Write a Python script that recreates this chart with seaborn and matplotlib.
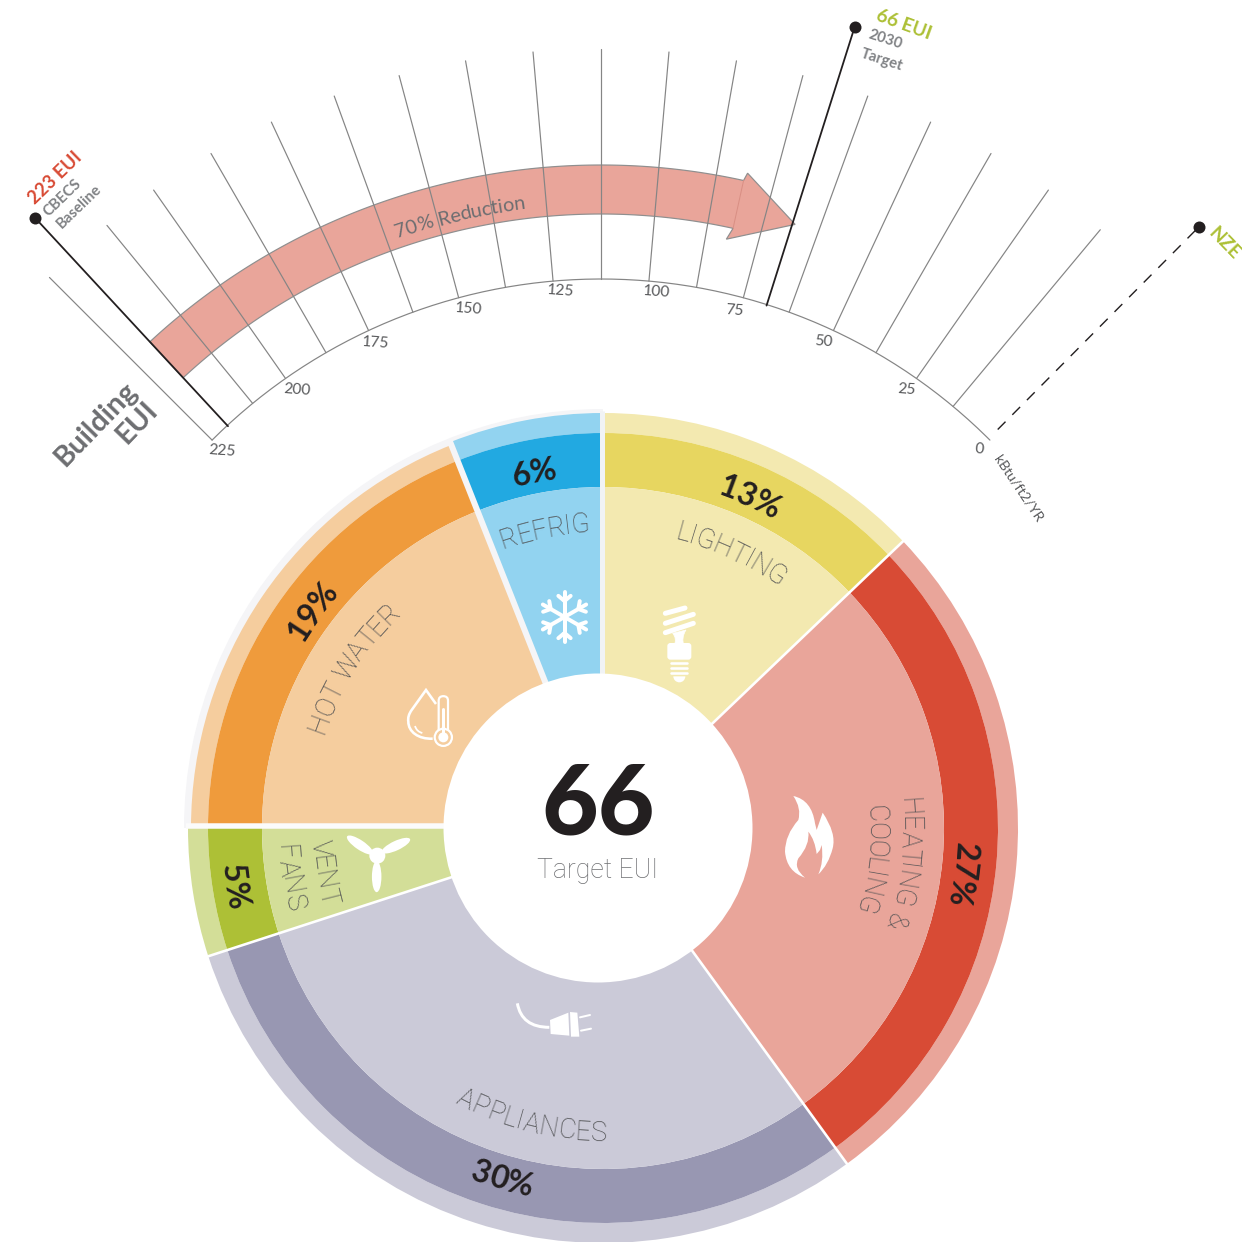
import numpy as np
import pandas as pd
import seaborn as sns
import matplotlib
matplotlib.use("Agg")
import matplotlib.pyplot as plt
from matplotlib.patches import Wedge, Circle, PathPatch, Ellipse, FancyBboxPatch, Polygon
from matplotlib.path import Path
from matplotlib.font_manager import FontProperties

# ---------- data ----------
end_uses = ["LIGHTING", "HEATING & COOLING", "APPLIANCES", "VENT FANS", "HOT WATER", "REFRIG"]
shares = [13, 27, 30, 5, 19, 6]
share_labels = ["13%", "27%", "30%", "5%", "19%", "6%"]
light_colors = ["#f3e9b0", "#e9a59a", "#cbcad8", "#d3de98", "#f5cd9e", "#92d3f0"]
dark_colors = ["#e7d660", "#d84b35", "#9897b2", "#adc036", "#ef9b3c", "#22a9e1"]
scale_values = [12.5, 25, 37.5, 50, 62.5, 75, 87.5, 100, 112.5, 125, 137.5, 150, 162.5, 175, 187.5, 200, 212.5, 225]
scale_labels = [0, 25, 50, 75, 100, 125, 150, 175, 200, 225]
baseline_eui = 223
target_eui = 66
nze_eui = 0

# ---------- setup ----------
sns.set_theme(style="white")
FONT = ["Lato", "DejaVu Sans"]
THIN = ["Roboto", "DejaVu Sans"]
plt.rcParams["font.family"] = FONT
fig = plt.figure(figsize=(12.42, 12.42), dpi=100)
ax = fig.add_axes([0, 0, 1, 1])
renderer = fig.canvas.get_renderer()
PX = 0.72  # points per pixel

INK = "#231f20"
LABEL = "#58595b"
GREY = "#808285"
RED = "#d84b35"
GREEN = "#adc036"
PALE = "#f5f5f7"

DC = (603, 828)   # donut centre
GC = (601, 829)   # gauge centre


def polar(centre, r, a):
    a = np.radians(a)
    return centre[0] + r * np.sin(a), centre[1] - r * np.cos(a)


def eui_angle(v):
    return (112.5 - v) * 0.4


def arc_text(s, a_mid, r, size_px, weight="normal", color=LABEL, cw=True, centre=DC, track=0.0, family=FONT):
    fp = FontProperties(family=family, size=size_px * PX, weight=weight)
    w = lambda t: renderer.get_text_width_height_descent(t, fp, False)[0] if t else 0.0
    n = len(s)
    total = w(s) + track * (n - 1)
    base = r - 0.36 * size_px if cw else r + 0.36 * size_px
    for i, ch in enumerate(s):
        if ch == " ":
            continue
        d = (w(s[:i]) + w(s[:i + 1])) / 2 + track * i - total / 2
        da = np.degrees(d / r)
        a = a_mid + da if cw else a_mid - da
        rot = -a if cw else 180 - a
        x, y = polar(centre, base, a)
        ax.text(x, y, ch, fontproperties=fp, color=color, rotation=rot, rotation_mode="anchor",
                ha="center", va="baseline", zorder=8)


# ---------- gauge ----------
# arrow
arrow_angles = np.linspace(-42.8, 12.4, 120)
outer = [polar(GC, 664, a) for a in arrow_angles]
inner = [polar(GC, 615, a) for a in arrow_angles[::-1]]
head = [polar(GC, 672, 12.6), polar(GC, 635, 17.8), polar(GC, 603, 12.0)]
ax.add_patch(Polygon(outer + head + inner, closed=True, fc="#e9a59a", ec="#8f8f8f", lw=1.2 * PX, zorder=2))
ax.plot(*zip(polar(GC, 664, 12.4), polar(GC, 615, 12.4)), color="#d98f84", lw=1 * PX, zorder=3)


# rays (the 212.5 ray sits slightly inward in the source)
def ray_angle(v):
    return eui_angle(v) + (0.7 if v == 212.5 else 0.0) - (0.2 if v == 12.5 else 0.0)


ray_df = pd.DataFrame(
    [dict(ray=v, order=i, x=polar(GC, r, ray_angle(v))[0], y=polar(GC, r, ray_angle(v))[1])
     for v in scale_values for i, r in enumerate((550, 780))]
)
sns.lineplot(data=ray_df, x="x", y="y", units="ray", estimator=None, sort=False, color="#858585",
             lw=1.2 * PX, ax=ax, zorder=4, legend=False)

# base arc
arc_a = np.linspace(eui_angle(225), eui_angle(0), 200)
ax.plot(*zip(*[polar(GC, 550, a) for a in arc_a]), color="#858585", lw=1.2 * PX, zorder=4)

label_dx = [-11, -10, -10, -9, 8, 8, 10, 7, 11, 10]
label_dy = [9, 11, 11, 13, 11, 10, 11, 12, 11, 11]
for v, dx, dy in zip(scale_labels, label_dx, label_dy):
    x, y = polar(GC, 550, eui_angle(v))
    ax.text(x + dx, y + dy, str(v), ha="center", va="center", fontsize=15.5 * PX, color=LABEL,
            rotation=-4, zorder=8)

# marker lines and dots (the designer placed these slightly off the scale)
base_a = eui_angle(baseline_eui) + 1.4
targ_a = eui_angle(target_eui) - 1.05
nze_a = eui_angle(nze_eui) - 0.2
ax.plot(*zip(polar(GC, 549, base_a), polar(GC, 833, base_a)), color=INK, lw=1.8 * PX, zorder=5)
ax.plot(*zip(polar(GC, 549, targ_a), polar(GC, 841, targ_a)), color=INK, lw=1.8 * PX, zorder=5)
ax.plot(*zip(polar(GC, 563, nze_a), polar(GC, 849, nze_a)), color=INK, lw=1.4 * PX, dashes=(7.9, 6.9), zorder=5)
dots = pd.DataFrame([polar(GC, 833, base_a), polar(GC, 841, targ_a), polar(GC, 849, nze_a)], columns=["x", "y"])
sns.scatterplot(data=dots, x="x", y="y", s=(12 * PX) ** 2, color=INK, linewidth=0, ax=ax, zorder=6, legend=False)

# gauge text
arc_text("70% Reduction", -13, 632, 20, weight="normal", color="#6d6e71", centre=GC)
ax.text(96, 424, "Building", rotation=46, ha="center", va="center", fontsize=29 * PX, fontweight="bold", color="#6d6e71")
ax.text(137, 423, "EUI", rotation=46, ha="center", va="center", fontsize=29 * PX, fontweight="bold", color="#6d6e71")
ax.text(55, 178, "223 EUI", rotation=44, ha="center", va="center", fontsize=18.5 * PX, fontweight="bold", color=RED)
ax.text(62, 198, "CBECS", rotation=44, ha="center", va="center", fontsize=15 * PX, fontweight="bold", color=GREY)
ax.text(79, 207, "Baseline", rotation=44, ha="center", va="center", fontsize=15 * PX, fontweight="bold", color=GREY)
ax.text(904, 25, "66 EUI", rotation=-20, ha="center", va="center", fontsize=19 * PX, fontweight="bold", color=GREEN)
ax.text(885, 40, "2030", rotation=-18, ha="center", va="center", fontsize=15 * PX, fontweight="bold", color=GREY)
ax.text(882, 60, "Target", rotation=-18, ha="center", va="center", fontsize=15 * PX, fontweight="bold", color=GREY)
ax.text(1224, 243, "NZE", rotation=-46, ha="center", va="center", fontsize=19 * PX, fontweight="bold", color=GREEN)
ax.text(1018, 489, "kBtu/ft2/YR", rotation=-56, ha="center", va="center", fontsize=14 * PX, color=LABEL)

# ---------- donut ----------
ax.add_patch(Wedge(DC, 419, 180, 270, fc=PALE, ec="none", zorder=1))
edges = np.cumsum([0] + shares) * 3.6
edges[1] -= 0.5   # the source drew this boundary slightly early
for i, name in enumerate(end_uses):
    t1, t2 = edges[i] - 90, edges[i + 1] - 90
    top = 412 if name == "HOT WATER" else 415
    for r, width, col in ((top, top - 395, light_colors[i]), (395, 54, dark_colors[i]), (341, 341, light_colors[i])):
        ax.add_patch(Wedge(DC, r, t1, t2, width=width, fc=col, ec="none", zorder=2))
# thin white separators
for e in edges[1:4]:
    ax.plot(*zip(polar(DC, 0, e), polar(DC, 417, e)), color="white", lw=2.6 * PX, solid_capstyle="butt", zorder=3)
# pale separators around the hot-water / refrigeration quarter
ax.plot([186, 603], [826.3, 826.3], color="#fbfbfb", lw=5.5 * PX, solid_capstyle="butt", zorder=3)
ax.plot(*zip(polar(DC, 0, edges[5]), polar(DC, 418, edges[5])), color=PALE, lw=6 * PX, solid_capstyle="butt", zorder=3)
ax.plot([601.5, 601.5], [828, 411], color="#f1f3f5", lw=5 * PX, solid_capstyle="butt", zorder=3)
ax.add_patch(Circle((598, 828), 154.5, fc="white", ec="none", zorder=4))

# share labels
share_pos = [(23.9, 364, True), (97.4, 364, True), (196, 364, False), (261, 372, False), (306.7, 364, True), (349, 364, True)]
for lab, (a, r, cw) in zip(share_labels, share_pos):
    arc_text(lab, a, r, 32, weight="bold", color=INK, cw=cw)

# names
NAME = dict(weight="light", cw=True, family=THIN, color="#4f5052")
arc_text("LIGHTING", 25, 307, 27, **NAME)
arc_text("HEATING &", 96.7, 308, 27, **NAME)
arc_text("COOLING", 96.7, 275, 27, **NAME)
arc_text("HOT WATER", 302.6, 304, 27, **NAME)
arc_text("REFRIG", 348.9, 306, 27, **NAME)
NAME["cw"] = False
arc_text("APPLIANCES", 193.8, 303, 27, **NAME)
arc_text("VENT", 261, 282, 27, **NAME)
arc_text("FANS", 261, 316, 27, **NAME)

# centre
ax.text(598, 806, str(target_eui), ha="center", va="center", fontsize=98 * PX, fontweight="black", color=INK, zorder=8)
ax.text(598, 870, "Target EUI", ha="center", va="center", fontsize=26.5 * PX, fontweight="light",
        family=THIN, color="#6d6e71", zorder=8)

# ---------- icons ----------
W = dict(color="white", solid_capstyle="round", solid_joinstyle="round", zorder=7)

# snowflake
sc = (564.5, 617)
for k in range(6):
    a = 60 * k
    ax.plot(*zip(sc, polar(sc, 25, a)), lw=4 * PX, **W)
    base = polar(sc, 16, a)
    for s in (-1, 1):
        ax.plot(*zip(base, polar(base, 8, a + s * 50)), lw=4 * PX, **W)

# bulb (from zoom coordinates)
z3 = lambda x, y: (380 + x / 3, 580 + y / 3)
for p, q in (((856, 100), (915, 84)), ((856, 130), (940, 103)), ((856, 158), (940, 130))):
    ax.plot(*zip(z3(*p), z3(*q)), lw=5 * PX, **W)
ax.add_patch(PathPatch(Path([z3(878, 160), z3(892, 175), z3(882, 200), z3(912, 200), z3(903, 172), z3(918, 150), z3(878, 160)],
                            [1, 3, 2, 2, 3, 2, 79]), fc="white", ec="white", lw=0.5, zorder=7))
ax.add_patch(FancyBboxPatch(z3(868, 195), 60 / 3, 38 / 3, boxstyle="round,pad=2,rounding_size=3", fc="white", ec="none", zorder=7))
for yy in (250, 265, 280):
    ax.plot(*zip(z3(874, yy), z3(922, yy)), lw=2.6 * PX, **W)
ax.add_patch(Wedge(z3(898, 289), 6, 0, 180, fc="white", ec="none", zorder=7))

# droplet & thermometer
ax.add_patch(PathPatch(Path([z3(168, 372), z3(138, 330), z3(95, 390), z3(82, 408), z3(85, 425),
                             z3(85, 455), z3(115, 478), z3(158, 476)],
                            [1, 2, 2, 3, 3, 4, 4, 4]), fc="none", ec="white", lw=2.6 * PX, zorder=7))
ax.add_patch(PathPatch(Path([z3(105, 438), z3(110, 455), z3(127, 459)], [1, 3, 3]), fc="none", ec="white", lw=1.8 * PX, zorder=7))
tc = z3(190, 472)
ax.add_patch(Circle(tc, 8.6, fc="none", ec="white", lw=2.2 * PX, zorder=7))
ax.add_patch(Circle(tc, 5, fc="white", ec="none", zorder=7))
lx, rx = z3(176, 0)[0], z3(204, 0)[0]
ty = z3(0, 362)[1]
by = z3(0, 450)[1]
ax.add_patch(PathPatch(Path([(lx, by), (lx, ty), (lx, ty - 4.5), ((lx + rx) / 2, ty - 4.5), (rx, ty - 4.5), (rx, ty), (rx, by)],
                            [1, 2, 3, 3, 3, 3, 2]), fc="none", ec="white", lw=2.2 * PX, zorder=7))
ax.plot(*zip(z3(190, 388), tc), lw=3 * PX, **W)

# flame
z5 = lambda x, y: (500 + x / 3, 780 + y / 3)
fl = [(880, 48), (935, 60), (945, 130), (950, 150), (968, 98), (1010, 160), (998, 205), (985, 255), (955, 283),
      (972, 245), (965, 195), (960, 210), (950, 222), (945, 180), (925, 155), (930, 195), (895, 235), (880, 265), (915, 293),
      (860, 275), (855, 215), (855, 165), (895, 120), (905, 85), (880, 48)]
codes = [1, 3, 3, 2, 2, 3, 3, 3, 3, 3, 3, 2, 2, 3, 3, 3, 3, 3, 3, 3, 3, 3, 3, 3, 3]
ax.add_patch(PathPatch(Path([z5(*p) for p in fl], codes), fc="white", ec="none", zorder=7))

# plug
ax.add_patch(PathPatch(Path([z5(52, 670), z5(65, 742), z5(148, 742)], [1, 3, 3]), fc="none", ec="white", lw=3 * PX, zorder=7))
ax.add_patch(Polygon([z5(150, 720), z5(205, 698), z5(208, 767), z5(152, 762)], fc="white", ec="none", zorder=7))
ax.add_patch(Polygon([z5(210, 696), z5(232, 698), z5(238, 770), z5(213, 770)], fc="white", ec="none", zorder=7))
ax.plot(*zip(z5(240, 712), z5(270, 705)), lw=2 * PX, **W)
ax.plot(*zip(z5(243, 752), z5(273, 746)), lw=2 * PX, **W)

# fan
z4 = lambda x, y: (180 + x / 3, 780 + y / 3)
ax.add_patch(Circle(z4(592, 227), 8, fc="white", ec="none", zorder=7))
for c, ang in (((540, 195), 34), ((648, 197), -25), ((590, 290), 90)):
    ax.add_patch(Ellipse(z4(*c), 31, 9.5, angle=ang, fc="white", ec="none", zorder=7))

ax.set_xlim(0, 1242)
ax.set_ylim(1242, 0)
ax.set_aspect("equal")
ax.set_axis_off()
fig.savefig("out.png", dpi=100, facecolor="white")
